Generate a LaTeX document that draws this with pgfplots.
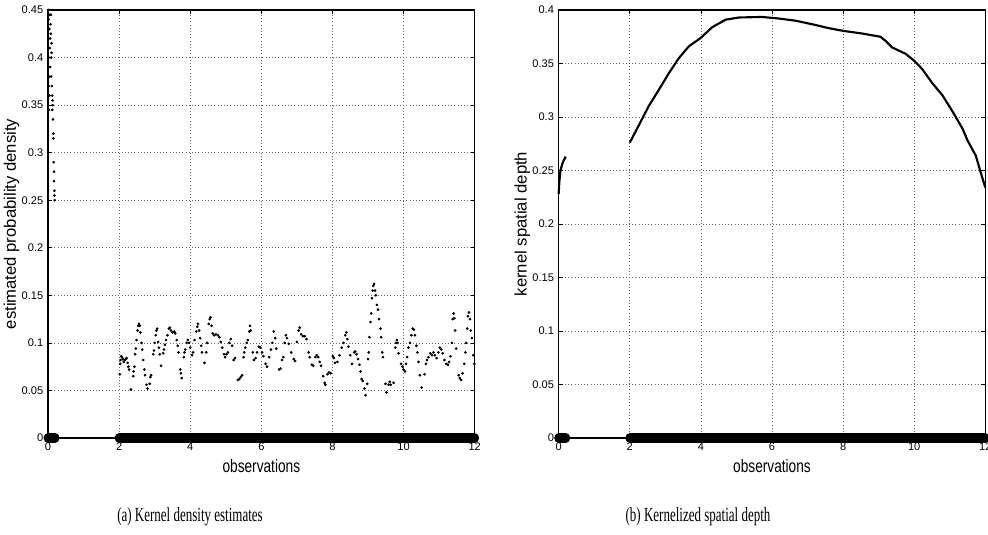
\documentclass[border=0pt]{standalone}
\usepackage{pgfplots}
\pgfplotsset{compat=1.18}
\usepackage{fontspec}
\setmainfont{Liberation Sans}
\newfontfamily\capfont[FakeStretch=0.65]{Liberation Serif}
\newfontfamily\labfont[FakeStretch=0.76]{Liberation Sans}

\pgfplotsset{
  matfig/.style={
    scale only axis,
    width=320pt, height=321pt,
    xmin=0, xmax=12, ymin=0,
    xtick={0,2,4,6,8,10,12},
    grid=major,
    grid style={dotted, black!60, line width=0.5pt},
    tick align=inside,
    major tick length=3pt,
    tick style={black, line width=0.5pt},
    axis line style={line width=1.1pt},
    clip=false,
    /pgf/number format/assume math mode=true,
    tick label style={font=\fontsize{8.3}{9}\selectfont},
    xlabel style={font=\labfont\fontsize{13.5}{15}\selectfont},
    ylabel style={font=\fontsize{12.5}{14}\selectfont,
      at={(axis description cs:0,0.5)}, anchor=south, yshift=18pt},
    xlabel={observations},
  },
  obsbar/.style={black, line width=6.75pt, line cap=round},
}

\begin{document}
\begin{tikzpicture}
\useasboundingbox (-36pt,-72.75pt) rectangle (705pt,328.5pt);

% ---- (a) density estimates ----
\begin{axis}[matfig, at={(0,0)}, anchor=south west,
    ymax=0.45,
    ytick={0,0.05,0.1,0.15,0.2,0.25,0.3,0.35,0.4,0.45},
    yticklabels={0,0.05,0.1,0.15,0.2,0.25,0.3,0.35,0.4,0.45},
    ylabel={estimated probability density},
]
  % observations on the axis
  \addplot[black, line width=0.8pt] coordinates {(0,0) (12,0)};
  \addplot[obsbar] coordinates {(0,0) (0.2,0)};
  \addplot[obsbar] coordinates {(2,0) (12,0)};

  % estimated densities
  \addplot[only marks, mark=*, mark size=0.8pt, black] coordinates {
    (0.01,0.45) (0.02,0.44) (0.02,0.40) (0.02,0.37) (0.03,0.345) (0.03,0.38)
    (0.04,0.43) (0.04,0.36) (0.05,0.445) (0.05,0.41) (0.06,0.42) (0.06,0.39)
    (0.07,0.435) (0.08,0.445) (0.08,0.425) (0.09,0.40) (0.09,0.38) (0.10,0.415)
    (0.10,0.405) (0.11,0.37) (0.12,0.36) (0.12,0.345) (0.13,0.355) (0.13,0.35)
    (0.14,0.335) (0.15,0.32) (0.15,0.315) (0.16,0.29) (0.17,0.28) (0.17,0.27)
    (0.18,0.26) (0.18,0.255) (0.19,0.25)
    (2.02,0.067) (2.03,0.078) (2.04,0.082) (2.06,0.086) (2.08,0.085) (2.10,0.083)
    (2.13,0.080) (2.16,0.082) (2.19,0.083) (2.21,0.084) (2.24,0.079) (2.26,0.075)
    (2.28,0.072) (2.33,0.051) (2.40,0.065) (2.41,0.070) (2.43,0.075) (2.45,0.088)
    (2.47,0.094) (2.49,0.103) (2.52,0.113) (2.54,0.118) (2.56,0.120) (2.58,0.118)
    (2.60,0.111) (2.63,0.100) (2.65,0.093) (2.68,0.082) (2.71,0.072) (2.73,0.066)
    (2.77,0.056) (2.80,0.052) (2.86,0.057) (2.88,0.064) (2.90,0.066) (2.96,0.088)
    (2.98,0.092) (3.00,0.100) (3.03,0.108) (3.05,0.113) (3.07,0.115) (3.10,0.101)
    (3.12,0.095) (3.14,0.088) (3.18,0.076) (3.24,0.089) (3.26,0.093) (3.29,0.098)
    (3.32,0.103) (3.36,0.108) (3.40,0.115) (3.43,0.116) (3.46,0.113) (3.50,0.111)
    (3.55,0.112) (3.58,0.110) (3.62,0.103) (3.65,0.097) (3.67,0.090) (3.72,0.072)
    (3.74,0.068) (3.76,0.063) (3.82,0.085) (3.84,0.090) (3.86,0.093) (3.90,0.100)
    (3.93,0.103) (3.97,0.100) (4.00,0.095) (4.05,0.087) (4.08,0.090) (4.12,0.103)
    (4.17,0.112) (4.20,0.117) (4.22,0.120) (4.25,0.113) (4.28,0.105) (4.31,0.097)
    (4.33,0.090) (4.40,0.079) (4.45,0.090) (4.48,0.100) (4.52,0.120) (4.55,0.125)
    (4.57,0.127) (4.60,0.118) (4.63,0.110) (4.67,0.108) (4.72,0.109) (4.78,0.108)
    (4.82,0.106) (4.86,0.101) (4.90,0.095) (4.95,0.088) (4.98,0.085) (5.02,0.088)
    (5.06,0.090) (5.10,0.100) (5.14,0.104) (5.18,0.097) (5.22,0.082) (5.26,0.084)
    (5.34,0.061) (5.38,0.062) (5.42,0.064) (5.46,0.066) (5.50,0.085) (5.52,0.090)
    (5.55,0.095) (5.59,0.100) (5.62,0.103) (5.66,0.112) (5.68,0.118) (5.70,0.113)
    (5.76,0.090) (5.79,0.082) (5.84,0.084) (5.88,0.090) (5.93,0.096) (5.97,0.095)
    (6.02,0.090) (6.06,0.086) (6.12,0.078) (6.16,0.075) (6.22,0.085) (6.27,0.093)
    (6.31,0.100) (6.35,0.112) (6.39,0.105) (6.42,0.094) (6.50,0.072) (6.54,0.073)
    (6.58,0.082) (6.62,0.085) (6.66,0.100) (6.69,0.108) (6.72,0.105) (6.77,0.099)
    (6.84,0.090) (6.91,0.083) (6.95,0.081) (7.00,0.101) (7.05,0.113) (7.08,0.116)
    (7.12,0.109) (7.17,0.107) (7.22,0.107) (7.27,0.104) (7.33,0.090) (7.36,0.085)
    (7.42,0.077) (7.46,0.076) (7.52,0.085) (7.56,0.087) (7.60,0.085) (7.64,0.080)
    (7.68,0.076) (7.74,0.065) (7.78,0.058) (7.80,0.056) (7.86,0.067) (7.90,0.069)
    (7.95,0.068) (8.01,0.086) (8.04,0.084) (8.07,0.079) (8.14,0.080) (8.20,0.087)
    (8.26,0.095) (8.31,0.100) (8.36,0.108) (8.39,0.111) (8.42,0.104) (8.45,0.096)
    (8.50,0.087) (8.55,0.078) (8.61,0.090) (8.64,0.091) (8.68,0.088) (8.72,0.083)
    (8.76,0.077) (8.79,0.070) (8.82,0.062) (8.85,0.060) (8.90,0.052) (8.93,0.045)
    (8.98,0.057) (9.00,0.083) (9.02,0.090) (9.04,0.106) (9.07,0.122) (9.09,0.131)
    (9.11,0.147) (9.13,0.155) (9.15,0.160) (9.17,0.162) (9.20,0.155) (9.22,0.150)
    (9.25,0.140) (9.28,0.135) (9.31,0.125) (9.35,0.115) (9.37,0.106) (9.40,0.090)
    (9.42,0.085) (9.49,0.057) (9.52,0.048) (9.58,0.056) (9.61,0.059) (9.64,0.056)
    (9.72,0.058) (9.77,0.095) (9.79,0.100) (9.81,0.103) (9.83,0.100) (9.86,0.089)
    (9.93,0.078) (9.97,0.075) (10.00,0.072) (10.04,0.070) (10.07,0.078) (10.10,0.085)
    (10.14,0.095) (10.18,0.100) (10.22,0.108) (10.26,0.115) (10.29,0.114) (10.32,0.108)
    (10.36,0.097) (10.39,0.090) (10.42,0.080) (10.46,0.066) (10.51,0.053) (10.59,0.067)
    (10.63,0.078) (10.66,0.082) (10.70,0.085) (10.75,0.089) (10.80,0.087) (10.84,0.090)
    (10.88,0.087) (10.93,0.084) (10.98,0.090) (11.02,0.095) (11.06,0.093) (11.10,0.089)
    (11.15,0.082) (11.20,0.078) (11.25,0.077) (11.28,0.080) (11.32,0.086) (11.36,0.100)
    (11.38,0.125) (11.41,0.131) (11.43,0.126) (11.45,0.113) (11.48,0.094) (11.55,0.066)
    (11.58,0.063) (11.62,0.061) (11.66,0.068) (11.71,0.078) (11.74,0.090) (11.76,0.100)
    (11.79,0.115) (11.81,0.128) (11.84,0.132) (11.87,0.125) (11.89,0.113) (11.92,0.105)
    (11.96,0.087) (11.99,0.078)
  };
\end{axis}

% ---- (b) kernelized spatial depth ----
\begin{axis}[matfig, at={(383pt,0)}, anchor=south west,
    ymax=0.4,
    ytick={0,0.05,0.1,0.15,0.2,0.25,0.3,0.35,0.4},
    yticklabels={0,0.05,0.1,0.15,0.2,0.25,0.3,0.35,0.4},
    ylabel={kernel spatial depth},
]
  \addplot[black, line width=0.8pt] coordinates {(0,0) (12,0)};
  \addplot[obsbar] coordinates {(0,0) (0.2,0)};
  \addplot[obsbar] coordinates {(2,0) (12,0)};

  \addplot[black, line width=1.6pt] coordinates {
    (0,0.228) (0.02,0.240) (0.05,0.250) (0.10,0.256) (0.15,0.260) (0.20,0.263)
  };
  \addplot[black, line width=1.6pt] coordinates {
    (2,0.276) (2.25,0.292) (2.53,0.310) (2.81,0.325) (3.10,0.341) (3.38,0.355)
    (3.66,0.366) (4.00,0.374) (4.32,0.384) (4.70,0.391) (5.07,0.393) (5.72,0.3935)
    (6.20,0.392) (6.66,0.390) (7.13,0.3867) (7.60,0.383) (8.00,0.3805) (8.54,0.378)
    (9.05,0.375) (9.20,0.371) (9.38,0.365) (9.76,0.359) (10.00,0.3525) (10.22,0.345)
    (10.50,0.332) (10.80,0.320) (11.08,0.305) (11.36,0.289) (11.50,0.278) (11.73,0.264)
    (11.88,0.247) (12.00,0.234)
  };
\end{axis}

\node[font=\capfont\fontsize{15}{17}\selectfont] at (106.5pt,-59pt) {(a) Kernel density estimates};
\node[font=\capfont\fontsize{15}{17}\selectfont] at (487.5pt,-59pt) {(b) Kernelized spatial depth};
\end{tikzpicture}
\end{document}
